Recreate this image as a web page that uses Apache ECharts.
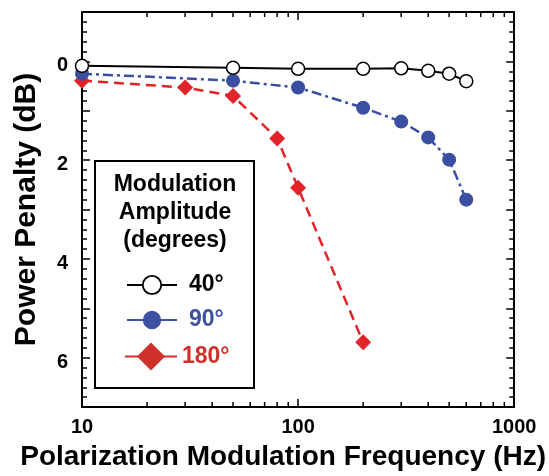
<!DOCTYPE html>
<html><head><meta charset="utf-8">
<script src="https://cdn.jsdelivr.net/npm/echarts@6/dist/echarts.min.js"></script>
<style>html,body{margin:0;padding:0;background:#fff}#c{width:549px;height:476px}</style>
</head><body><div id="c"></div>
<script>
const freq40 = [10, 50, 100, 200, 300, 400, 500, 600];
const penalty40 = [0.09, 0.13, 0.15, 0.15, 0.14, 0.19, 0.25, 0.40];
const freq90 = [10, 50, 100, 200, 300, 400, 500, 600];
const penalty90 = [0.25, 0.39, 0.53, 0.94, 1.22, 1.54, 1.99, 2.80];
const freq180 = [10, 30, 50, 80, 100, 200];
const penalty180 = [0.39, 0.53, 0.70, 1.56, 2.56, 5.69];
const seriesNames = ['40°', '90°', '180°'];
const legendTitle = ['Modulation', 'Amplitude', '(degrees)'];
const xMinorTicks = [20, 30, 40, 50, 60, 70, 80, 90, 200, 300, 400, 500, 600, 700, 800, 900];
const yLabelValues = [0, 2, 4, 6];
const xTitle = 'Polarization Modulation Frequency (Hz)';
const yTitle = 'Power Penalty (dB)';

const Y_MIN = -1, Y_MAX = 7;
const FONT = "'Liberation Sans', Arial, Helvetica, sans-serif";
const BLUE = '#3a4ea2', RED = '#e2232a';

const pairs = (xs, ys) => xs.map((x, i) => [x, ys[i]]);

const chart = echarts.init(document.getElementById('c'), null, {renderer: 'canvas'});

const yAxisBase = {
  type: 'value', min: Y_MIN, max: Y_MAX, interval: 1, inverse: true,
  splitLine: {show: false},
  axisLine: {show: true, onZero: false, lineStyle: {color: '#000', width: 2}},
  axisTick: {show: true, inside: true, length: 8, lineStyle: {color: '#000', width: 1.5}},
  minorTick: {show: true, splitNumber: 5, length: 5, lineStyle: {color: '#000', width: 1.5}}
};
const xAxisBase = {
  type: 'log', logBase: 10, min: 10, max: 1000,
  splitLine: {show: false}, minorSplitLine: {show: false},
  axisLine: {show: true, onZero: false, lineStyle: {color: '#000', width: 2}},
  axisTick: {show: true, inside: true, length: 8, lineStyle: {color: '#000', width: 1.5}},
  minorTick: {show: false}
};

const option = {
  animation: false,
  backgroundColor: '#fff',
  textStyle: {fontFamily: FONT},
  grid: {left: 82, right: 33, top: 12, bottom: 66},
  xAxis: [
    Object.assign({}, xAxisBase, {
      position: 'bottom',
      axisLabel: {show: true, margin: 10, fontSize: 20, fontWeight: 'bold', color: '#000', fontFamily: FONT,
                  formatter: v => String(Math.round(v))},
      name: xTitle, nameLocation: 'middle', nameGap: 36,
      nameTextStyle: {fontSize: 28, fontWeight: 'bold', color: '#000', fontFamily: FONT, padding: [0, 30, 0, 0]}
    }),
    Object.assign({}, xAxisBase, {position: 'top', axisLabel: {show: false}})
  ],
  yAxis: [
    Object.assign({}, yAxisBase, {
      position: 'left',
      axisLabel: {
        show: true, margin: 14, color: '#000',
        formatter: v => (yLabelValues.indexOf(v) >= 0 ? '{s|}\n{a|' + v + '}' : ''),
        rich: {
          s: {lineHeight: 9, fontSize: 9},
          a: {lineHeight: 20, fontSize: 20, fontWeight: 'bold', color: '#000', fontFamily: FONT}
        }
      },
      name: yTitle, nameLocation: 'middle', nameGap: 40, nameRotate: 90,
      nameTextStyle: {fontSize: 30, fontWeight: 'bold', color: '#000', fontFamily: FONT}
    }),
    Object.assign({}, yAxisBase, {position: 'right', axisLabel: {show: false}})
  ],
  legend: [
    {
      data: [seriesNames[0]], left: 126, top: 273.5, itemWidth: 50, itemHeight: 23, padding: 0,
      selectedMode: false, z: 10,
      textStyle: {fontSize: 23, fontWeight: 'bold', color: '#000', fontFamily: FONT, padding: [0, 0, 0, 7]},
      itemStyle: {color: '#fff', borderColor: '#000', borderWidth: 1.8},
      lineStyle: {color: '#000', width: 2, type: 'solid'}
    },
    {
      data: [seriesNames[1]], left: 126, top: 308.5, itemWidth: 50, itemHeight: 23, padding: 0,
      selectedMode: false, z: 10,
      textStyle: {fontSize: 23, fontWeight: 'bold', color: '#3d50a2', fontFamily: FONT, padding: [0, 0, 0, 7]},
      itemStyle: {color: '#3d50a2', borderWidth: 0},
      lineStyle: {color: '#3d50a2', width: 2, type: 'solid'}
    },
    {
      data: [seriesNames[2]], left: 124, top: 342.5, itemWidth: 52, itemHeight: 35, padding: 0,
      selectedMode: false, z: 10,
      textStyle: {fontSize: 23, fontWeight: 'bold', color: '#d0302b', fontFamily: FONT},
      itemStyle: {color: '#d0302b', borderWidth: 0},
      lineStyle: {color: '#d0302b', width: 2, type: 'solid'}
    }
  ],
  graphic: [
    {type: 'rect', z: 5, shape: {x: 95, y: 161, width: 159, height: 227},
     style: {fill: '#fff', stroke: '#000', lineWidth: 2}},
    ...legendTitle.map((t, i) => ({
      type: 'text', z: 10, x: 175, y: 185 + i * 28,
      style: {text: t, align: 'center', verticalAlign: 'middle', fill: '#000',
              font: 'bold 23px ' + FONT}
    }))
  ],
  series: [
    {
      type: 'custom', silent: true, clip: false, z: 3,
      data: xMinorTicks.map(v => [v, 0]),
      encode: {x: 0, y: 1},
      renderItem: (params, api) => {
        const v = api.value(0);
        const b = api.coord([v, Y_MAX]);
        const t = api.coord([v, Y_MIN]);
        return {type: 'group', children: [
          {type: 'line', shape: {x1: b[0], y1: b[1], x2: b[0], y2: b[1] - 5}, style: {stroke: '#000', lineWidth: 1.5}},
          {type: 'line', shape: {x1: t[0], y1: t[1], x2: t[0], y2: t[1] + 5}, style: {stroke: '#000', lineWidth: 1.5}}
        ]};
      }
    },
    {
      name: seriesNames[2], type: 'line', z: 4,
      data: pairs(freq180, penalty180),
      symbol: 'diamond', symbolSize: 16,
      itemStyle: {color: RED},
      lineStyle: {color: RED, width: 2.5, type: [10, 6]}
    },
    {
      name: seriesNames[1], type: 'line', z: 5,
      data: pairs(freq90, penalty90),
      symbol: 'circle', symbolSize: 14,
      itemStyle: {color: BLUE},
      lineStyle: {color: BLUE, width: 2.5, type: [10, 4, 3, 4]}
    },
    {
      name: seriesNames[0], type: 'line', z: 6,
      data: pairs(freq40, penalty40),
      symbol: 'circle', symbolSize: 13,
      itemStyle: {color: '#fff', borderColor: '#000', borderWidth: 1.5},
      lineStyle: {color: '#000', width: 2, type: 'solid'}
    }
  ]
};
chart.setOption(option);
</script>
</body></html>
